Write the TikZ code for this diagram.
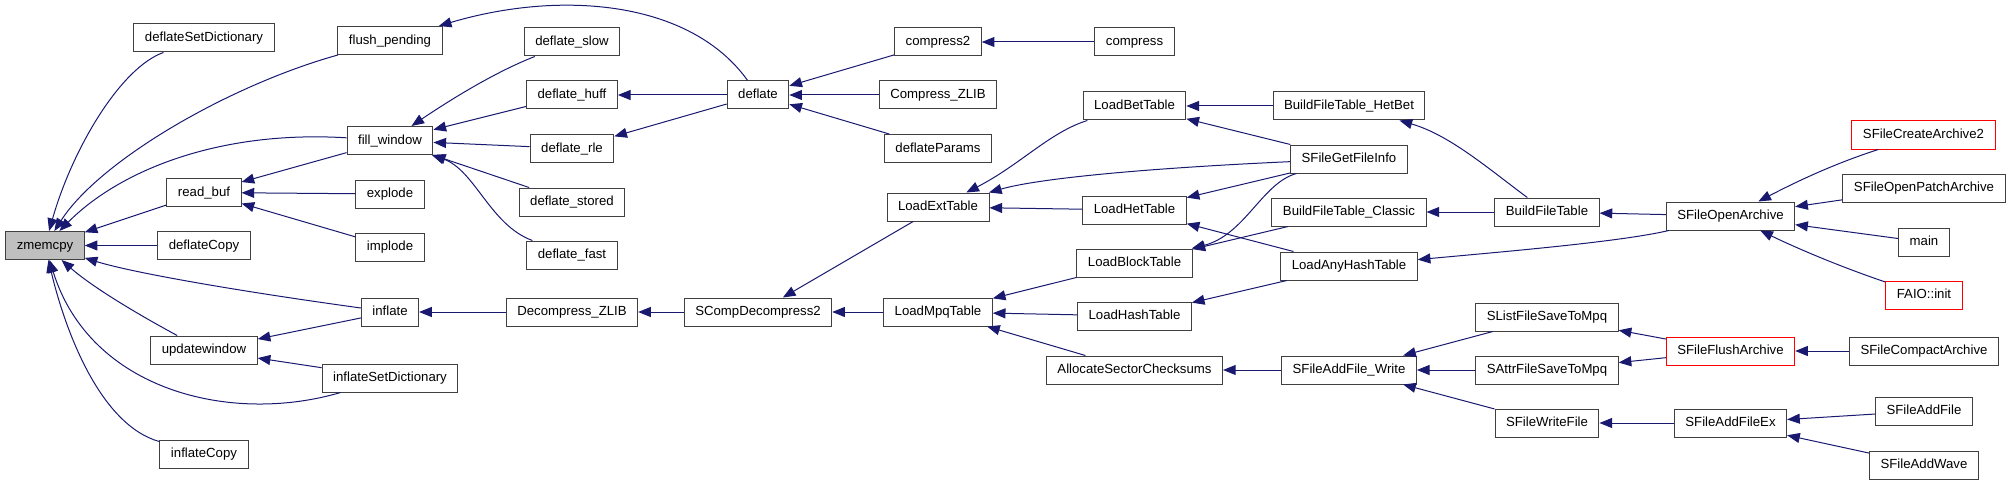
\documentclass[tikz,border=0pt]{standalone}
\usepackage{fontspec}
\setmainfont{Liberation Sans}
\usepackage{tikz}
\usetikzlibrary{arrows.meta}
\definecolor{EdgeBlue}{HTML}{191970}
\definecolor{BoxGray}{HTML}{404040}
\definecolor{RootGray}{HTML}{BFBFBF}
\definecolor{LinkRed}{HTML}{FF0000}

\begin{document}
\begin{tikzpicture}[x=0.75pt, y=-0.75pt,
  >={Triangle[length=9.5pt, width=7.5pt]},
  fn/.style={draw=BoxGray, line width=0.75pt, fill=white, minimum height=21pt,
    inner xsep=8.25pt, inner ysep=0pt, text height=7.4pt, text depth=2pt,
    font=\fontsize{9.9}{11}\selectfont},
  root/.style={fn, fill=RootGray},
  ext/.style={fn, draw=LinkRed},
  call/.style={->, EdgeBlue, line width=0.75pt}]
  % Canvas (pixel units of the call graph)
  \useasboundingbox (0,0) rectangle (2011,485);

  % Callee
  \node[root] (zmemcpy) at (45,245.5) {zmemcpy};

  % Direct callers
  \node[fn] (deflateSetDictionary) at (204,38)    {deflateSetDictionary};
  \node[fn] (readBuf)              at (204,192.5) {read\_buf};
  \node[fn] (deflateCopy)          at (204,245.5) {deflateCopy};
  \node[fn] (updatewindow)         at (204,350)   {updatewindow};
  \node[fn] (inflateCopy)          at (204,454)   {inflateCopy};

  \node[fn] (flushPending)         at (390,40.5)  {flush\_pending};
  \node[fn] (fillWindow)           at (390,140.5) {fill\_window};
  \node[fn] (explode)              at (390,194)   {explode};
  \node[fn] (implode)              at (390,247)   {implode};
  \node[fn] (inflate)              at (390,312)   {inflate};
  \node[fn] (inflateSetDictionary) at (390,378)   {inflateSetDictionary};

  % zlib level
  \node[fn] (deflateSlow)    at (572,42)    {deflate\_slow};
  \node[fn] (deflateHuff)    at (572,95)    {deflate\_huff};
  \node[fn] (deflateRle)     at (572,148.5) {deflate\_rle};
  \node[fn] (deflateStored)  at (572,202)   {deflate\_stored};
  \node[fn] (deflateFast)    at (572,255)   {deflate\_fast};
  \node[fn] (decompressZlib) at (572,312)   {Decompress\_ZLIB};

  \node[fn] (deflate)          at (758,95)  {deflate};
  \node[fn] (sCompDecompress)  at (758,312) {SCompDecompress2};

  \node[fn] (compressTwo)   at (938,42)    {compress2};
  \node[fn] (compressZlib)  at (938,95)    {Compress\_ZLIB};
  \node[fn] (deflateParams) at (938,148.5) {deflateParams};
  \node[fn] (loadExtTable)  at (938,207)   {LoadExtTable};
  \node[fn] (loadMpqTable)  at (938,312)   {LoadMpqTable};

  % StormLib tables
  \node[fn] (compress)       at (1134.5,42)  {compress};
  \node[fn] (loadBetTable)   at (1134.5,106) {LoadBetTable};
  \node[fn] (loadHetTable)   at (1134.5,210) {LoadHetTable};
  \node[fn] (loadBlockTable) at (1134.5,263) {LoadBlockTable};
  \node[fn] (loadHashTable)  at (1134.5,316) {LoadHashTable};
  \node[fn] (allocChecksums) at (1134.5,370) {AllocateSectorChecksums};

  \node[fn] (buildHetBet)  at (1349,106) {BuildFileTable\_HetBet};
  \node[fn] (getFileInfo)  at (1349,159) {SFileGetFileInfo};
  \node[fn] (buildClassic) at (1349,212) {BuildFileTable\_Classic};
  \node[fn] (loadAnyHash)  at (1349,266) {LoadAnyHashTable};
  \node[fn] (addFileWrite) at (1349,370) {SFileAddFile\_Write};

  \node[fn] (buildFileTable) at (1547,212) {BuildFileTable};
  \node[fn] (listFileSave)   at (1547,317) {SListFileSaveToMpq};
  \node[fn] (attrFileSave)   at (1547,370) {SAttrFileSaveToMpq};
  \node[fn] (writeFile)      at (1547,423) {SFileWriteFile};

  \node[fn]  (openArchive)  at (1730.5,216) {SFileOpenArchive};
  \node[ext] (flushArchive) at (1730.5,351) {SFileFlushArchive};
  \node[fn]  (addFileEx)    at (1730.5,423) {SFileAddFileEx};

  % Entry points
  \node[ext] (createArchive)  at (1923.5,135) {SFileCreateArchive2};
  \node[fn]  (openPatch)      at (1924,188)   {SFileOpenPatchArchive};
  \node[fn]  (mainFn)         at (1924,242)   {main};
  \node[ext] (faioInit)       at (1924,295)   {FAIO::init};
  \node[fn]  (compactArchive) at (1924,351)   {SFileCompactArchive};
  \node[fn]  (addFile)        at (1924,411)   {SFileAddFile};
  \node[fn]  (addWave)        at (1924,465)   {SFileAddWave};

  % Calls into zmemcpy
  \draw[call] (deflateSetDictionary) .. controls (120,68) and (72,150) .. (zmemcpy);
  \draw[call] (flushPending) .. controls (230,85) and (100,160) .. (zmemcpy);
  \draw[call] (fillWindow) .. controls (220,130) and (120,170) .. (zmemcpy);
  \draw[call] (readBuf) -- (zmemcpy);
  \draw[call] (deflateCopy) -- (zmemcpy);
  \draw[call] (inflate) .. controls (230,290) and (130,272) .. (zmemcpy);
  \draw[call] (updatewindow) .. controls (130,310) and (90,285) .. (zmemcpy);
  \draw[call] (inflateSetDictionary) .. controls (230,425) and (90,390) .. (zmemcpy);
  \draw[call] (inflateCopy) .. controls (100,425) and (65,330) .. (zmemcpy);

  % Deflate side
  \draw[call] (deflate) .. controls (690,0) and (560,-10) .. (flushPending);
  \draw[call] (deflateSlow) .. controls (495,72) and (450,100) .. (fillWindow);
  \draw[call] (deflateHuff) -- (fillWindow);
  \draw[call] (deflateRle) -- (fillWindow);
  \draw[call] (deflateStored) -- (fillWindow);
  \draw[call] (deflateFast) .. controls (490,225) and (475,170) .. (fillWindow);
  \draw[call] (fillWindow) -- (readBuf);
  \draw[call] (explode) -- (readBuf);
  \draw[call] (implode) -- (readBuf);
  \draw[call] (deflate) -- (deflateHuff);
  \draw[call] (deflate) -- (deflateRle);
  \draw[call] (compressTwo) -- (deflate);
  \draw[call] (compressZlib) -- (deflate);
  \draw[call] (deflateParams) -- (deflate);
  \draw[call] (compress) -- (compressTwo);

  % Inflate side
  \draw[call] (decompressZlib) -- (inflate);
  \draw[call] (inflate) -- (updatewindow);
  \draw[call] (inflateSetDictionary) -- (updatewindow);
  \draw[call] (sCompDecompress) -- (decompressZlib);
  \draw[call] (loadExtTable) -- (sCompDecompress);
  \draw[call] (loadMpqTable) -- (sCompDecompress);

  % Table loaders
  \draw[call] (loadBetTable) .. controls (1050,132) and (1020,165) .. (loadExtTable);
  \draw[call] (getFileInfo) .. controls (1150,168) and (1040,178) .. (loadExtTable);
  \draw[call] (loadHetTable) -- (loadExtTable);
  \draw[call] (getFileInfo) -- (loadBetTable);
  \draw[call] (buildHetBet) -- (loadBetTable);
  \draw[call] (getFileInfo) -- (loadHetTable);
  \draw[call] (loadAnyHash) -- (loadHetTable);
  \draw[call] (getFileInfo) .. controls (1262,183) and (1245,235) .. (loadBlockTable);
  \draw[call] (buildClassic) -- (loadBlockTable);
  \draw[call] (loadBlockTable) -- (loadMpqTable);
  \draw[call] (loadHashTable) -- (loadMpqTable);
  \draw[call] (allocChecksums) -- (loadMpqTable);
  \draw[call] (loadAnyHash) -- (loadHashTable);
  \draw[call] (addFileWrite) -- (allocChecksums);

  % Archive level
  \draw[call] (buildFileTable) .. controls (1490,170) and (1450,135) .. (buildHetBet);
  \draw[call] (buildFileTable) -- (buildClassic);
  \draw[call] (openArchive) -- (buildFileTable);
  \draw[call] (openArchive) .. controls (1620,242) and (1500,252) .. (loadAnyHash);
  \draw[call] (listFileSave) -- (addFileWrite);
  \draw[call] (attrFileSave) -- (addFileWrite);
  \draw[call] (writeFile) -- (addFileWrite);
  \draw[call] (flushArchive) -- (listFileSave);
  \draw[call] (flushArchive) -- (attrFileSave);
  \draw[call] (addFileEx) -- (writeFile);

  % Entry points
  \draw[call] (createArchive) .. controls (1830,165) and (1790,185) .. (openArchive);
  \draw[call] (openPatch) -- (openArchive);
  \draw[call] (mainFn) -- (openArchive);
  \draw[call] (faioInit) .. controls (1835,265) and (1790,245) .. (openArchive);
  \draw[call] (compactArchive) -- (flushArchive);
  \draw[call] (addFile) -- (addFileEx);
  \draw[call] (addWave) -- (addFileEx);
\end{tikzpicture}
\end{document}
